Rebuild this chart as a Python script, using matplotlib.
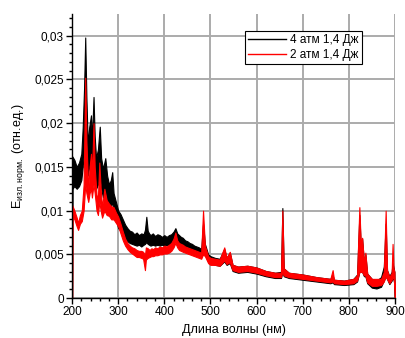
import matplotlib
matplotlib.use("Agg")
import matplotlib.pyplot as plt
from matplotlib.ticker import MultipleLocator, FuncFormatter

plt.rcParams['font.family'] = ['Liberation Sans', 'DejaVu Sans']
plt.rcParams['mathtext.fontset'] = 'custom'
plt.rcParams['mathtext.rm'] = 'Liberation Sans'

# ---- data (nm, lower / upper edge of the noisy trace) ----
wl_4atm = [200, 200.5, 205, 210, 215, 220, 223, 226, 228.5, 231, 234, 237, 241, 243,
           246.5, 249, 252, 256, 260, 263, 267, 272, 276, 280, 284, 287, 290, 295,
           300, 305, 310, 315, 320, 325, 330, 335, 340, 345, 350, 355, 358, 361, 364,
           367, 370, 375, 380, 385, 390, 395, 400, 405, 410, 415, 420, 424, 428, 432,
           436, 440, 445, 450, 455, 460, 465, 470, 475, 480, 484, 488, 495, 500,
           510, 520, 530, 535, 542, 548, 560, 580, 600, 620, 640, 653, 656, 659,
           670, 700, 730, 760, 765, 768, 790, 810, 818, 823, 826, 829, 833, 836,
           840, 850, 860, 870, 876, 880, 883, 888, 893, 895, 897, 899, 900]
lo_4atm = [0, 0.0125, 0.0128, 0.0125, 0.0128, 0.0135, 0.0150, 0.0170, 0.0200, 0.0180,
           0.0140, 0.0150, 0.0160, 0.0145, 0.0160, 0.0140, 0.0125, 0.0130, 0.0140,
           0.0125, 0.0115, 0.0120, 0.0110, 0.0105, 0.0105, 0.0110, 0.0098, 0.0090,
           0.0080, 0.0077, 0.0072, 0.0068, 0.0065, 0.0063, 0.0062, 0.0061, 0.0060,
           0.0061, 0.0059, 0.0061, 0.0062, 0.0064, 0.0062, 0.0061, 0.0060, 0.0061,
           0.0060, 0.0061, 0.0060, 0.0061, 0.0060, 0.0061, 0.0060, 0.0062, 0.0064,
           0.0068, 0.0064, 0.0061, 0.0060, 0.0058, 0.0057, 0.0056, 0.0054, 0.0053,
           0.0052, 0.0051, 0.0049, 0.0048, 0.0052, 0.0050, 0.0042,
           0.0040, 0.0038, 0.0037, 0.0042, 0.0038, 0.0040, 0.0031, 0.0029, 0.0030,
           0.0028, 0.0025, 0.0023, 0.0023, 0.0030, 0.0025, 0.0023, 0.0021, 0.0019,
           0.0017, 0.0018, 0.0016, 0.0015, 0.0016, 0.0019, 0.0030, 0.0030, 0.0030,
           0.0025, 0.0025, 0.0017, 0.0012, 0.0011, 0.0013, 0.0020, 0.0025, 0.0022,
           0.0016, 0.0020, 0.0022, 0.0022, 0.0015, 0]
hi_4atm = [0, 0.0162, 0.0158, 0.0150, 0.0155, 0.0165, 0.0195, 0.0240, 0.0298, 0.0230,
           0.0175, 0.0195, 0.0209, 0.0180, 0.0230, 0.0185, 0.0160, 0.0170, 0.0196,
           0.0160, 0.0148, 0.0160, 0.0140, 0.0130, 0.0135, 0.0144, 0.0120, 0.0110,
           0.0100, 0.0096, 0.0090, 0.0084, 0.0080, 0.0077, 0.0076, 0.0073, 0.0075,
           0.0072, 0.0074, 0.0073, 0.0078, 0.0093, 0.0077, 0.0074, 0.0072, 0.0074,
           0.0071, 0.0073, 0.0072, 0.0070, 0.0072, 0.0070, 0.0072, 0.0073, 0.0076,
           0.0080, 0.0074, 0.0072, 0.0070, 0.0069, 0.0066, 0.0065, 0.0063, 0.0062,
           0.0060, 0.0059, 0.0058, 0.0056, 0.0085, 0.0062, 0.0050,
           0.0048, 0.0046, 0.0045, 0.0056, 0.0046, 0.0052, 0.0038, 0.0036, 0.0037,
           0.0035, 0.0031, 0.0029, 0.0030, 0.0103, 0.0034, 0.0029, 0.0027, 0.0024,
           0.0022, 0.0026, 0.0021, 0.0020, 0.0022, 0.0027, 0.0095, 0.0060, 0.0068,
           0.0040, 0.0050, 0.0028, 0.0022, 0.0020, 0.0024, 0.0036, 0.0085, 0.0032,
           0.0025, 0.0030, 0.0040, 0.0035, 0.0030, 0]

wl_2atm = [200, 200.5, 205, 210, 213, 217, 221, 225, 228.5, 231, 235, 238, 241, 243,
           246.5, 249, 253, 256, 259, 262, 265, 270, 275, 280, 285, 290, 295, 300,
           305, 310, 315, 320, 325, 330, 335, 340, 345, 350, 354, 358, 360, 364, 368,
           372, 376, 380, 385, 390, 395, 400, 405, 410, 415, 420, 424, 428, 432, 436,
           440, 445, 450, 455, 460, 465, 470, 475, 480, 484, 488, 495,
           500, 510, 520, 530, 535, 542, 548, 560, 580, 600, 620, 640, 653, 656,
           659, 670, 700, 730, 760, 765, 768, 790, 810, 818, 823, 826, 829, 833,
           836, 840, 850, 860, 870, 876, 880, 883, 888, 893, 895, 897, 899, 900]
lo_2atm = [0, 0.0095, 0.0090, 0.0082, 0.0078, 0.0085, 0.0088, 0.0100, 0.0130, 0.0120,
           0.0110, 0.0120, 0.0125, 0.0115, 0.0130, 0.0120, 0.0100, 0.0095, 0.0110,
           0.0100, 0.0092, 0.0100, 0.0095, 0.0094, 0.0090, 0.0090, 0.0086, 0.0082,
           0.0074, 0.0066, 0.0060, 0.0056, 0.0053, 0.0051, 0.0049, 0.0047, 0.0047,
           0.0046, 0.0045, 0.0032, 0.0044, 0.0046, 0.0047, 0.0048, 0.0048, 0.0049,
           0.0049, 0.0050, 0.0050, 0.0051, 0.0051, 0.0052, 0.0054, 0.0058, 0.0063,
           0.0058, 0.0055, 0.0054, 0.0053, 0.0052, 0.0051, 0.0050, 0.0049, 0.0048,
           0.0047, 0.0046, 0.0045, 0.0050, 0.0048, 0.0040,
           0.0038, 0.0038, 0.0037, 0.0043, 0.0039, 0.0041, 0.0032, 0.0030,
           0.0031, 0.0029, 0.0026, 0.0024, 0.0024, 0.0030, 0.0026, 0.0024, 0.0022,
           0.0020, 0.0018, 0.0019, 0.0017, 0.0016, 0.0017, 0.0020, 0.0030, 0.0030,
           0.0030, 0.0026, 0.0026, 0.0018, 0.0014, 0.0014, 0.0015, 0.0019, 0.0025,
           0.0022, 0.0017, 0.0021, 0.0023, 0.0023, 0.0016, 0]
hi_2atm = [0, 0.0106, 0.0100, 0.0092, 0.0086, 0.0095, 0.0100, 0.0130, 0.0252, 0.0180,
           0.0125, 0.0150, 0.0165, 0.0140, 0.0200, 0.0150, 0.0118, 0.0115, 0.0155,
           0.0125, 0.0104, 0.0125, 0.0112, 0.0108, 0.0105, 0.0104, 0.0098, 0.0093,
           0.0085, 0.0076, 0.0068, 0.0063, 0.0060, 0.0058, 0.0057, 0.0055, 0.0054,
           0.0054, 0.0053, 0.0049, 0.0058, 0.0057, 0.0055, 0.0057, 0.0056, 0.0058,
           0.0057, 0.0059, 0.0058, 0.0060, 0.0059, 0.0061, 0.0063, 0.0068, 0.0075,
           0.0066, 0.0063, 0.0062, 0.0061, 0.0059, 0.0058, 0.0057, 0.0056, 0.0055,
           0.0054, 0.0053, 0.0052, 0.0100, 0.0060, 0.0048,
           0.0046, 0.0045, 0.0044, 0.0058, 0.0046, 0.0053, 0.0038, 0.0036,
           0.0037, 0.0035, 0.0031, 0.0029, 0.0029, 0.0100, 0.0034, 0.0029, 0.0027,
           0.0024, 0.0022, 0.0032, 0.0021, 0.0020, 0.0022, 0.0026, 0.0104, 0.0062,
           0.0069, 0.0040, 0.0052, 0.0028, 0.0022, 0.0022, 0.0022, 0.0030, 0.0100,
           0.0032, 0.0024, 0.0029, 0.0062, 0.0034, 0.0030, 0]

fig = plt.figure(figsize=(4.05, 3.38), dpi=100)
ax = fig.add_axes([0.178, 0.118, 0.797, 0.841])

ax.fill_between(wl_4atm, lo_4atm, hi_4atm, color='black', lw=0.8, zorder=3)
ax.fill_between(wl_2atm, lo_2atm, hi_2atm, color='red', lw=0.8, zorder=4)
# legend handles
ax.plot([], [], color='black', lw=1, label='4 атм 1,4 Дж')
ax.plot([], [], color='red', lw=1, label='2 атм 1,4 Дж')

ax.set_xlim(200, 900)
ax.set_ylim(0, 0.0325)
ax.xaxis.set_major_locator(MultipleLocator(100))
ax.xaxis.set_minor_locator(MultipleLocator(20))
ax.yaxis.set_major_locator(MultipleLocator(0.005))
ax.yaxis.set_minor_locator(MultipleLocator(0.001))
ax.yaxis.set_major_formatter(FuncFormatter(lambda v, p: ('%g' % round(v, 4)).replace('.', ',')))

ax.grid(True, which='major', color='#ababab', lw=1.4, zorder=0)
ax.set_axisbelow(True)
for s in ['top', 'right']:
    ax.spines[s].set_visible(False)
for s in ['left', 'bottom']:
    ax.spines[s].set_linewidth(1.0)
    ax.spines[s].set_zorder(5)
ax.tick_params(which='major', direction='out', length=4, width=1, labelsize=8.5, pad=2)
ax.tick_params(which='minor', direction='out', length=2.5, width=1)

ax.set_xlabel('Длина волны (нм)', fontsize=9, labelpad=4)
ax.set_ylabel(r'E$_{\mathregular{изл.норм.}}$ (отн.ед.)', fontsize=9, labelpad=5)

leg = ax.legend(loc='upper left', bbox_to_anchor=(0.535, 0.94), fontsize=8.5,
                frameon=True, fancybox=False, framealpha=1, edgecolor='black',
                borderpad=0.25, handlelength=3.2, handletextpad=0.4, labelspacing=0.3,
                borderaxespad=0)
leg.get_frame().set_linewidth(0.8)

fig.savefig('out.png', dpi=100)
